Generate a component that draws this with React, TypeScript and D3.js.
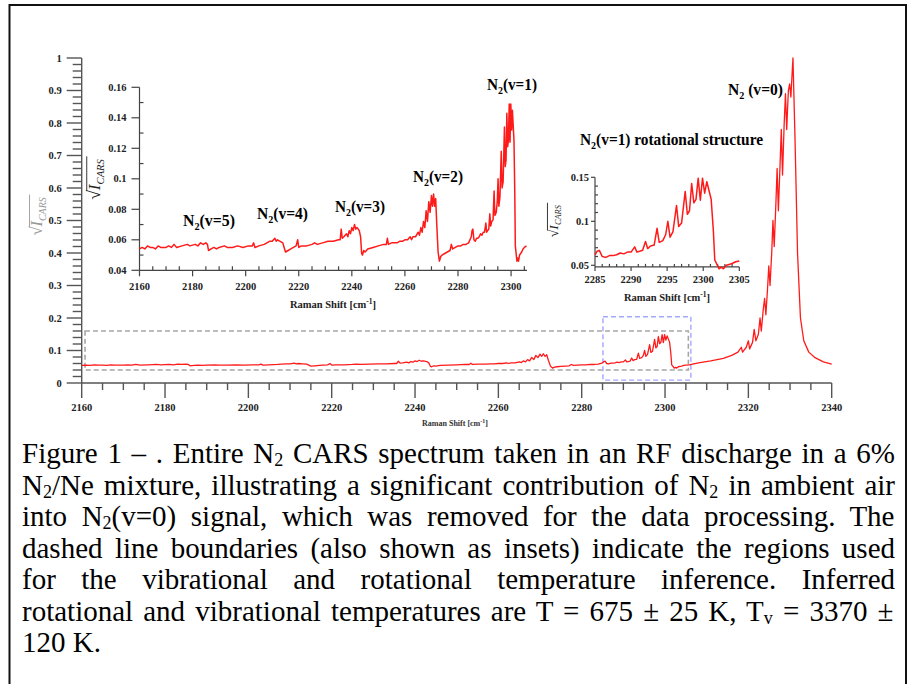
import React from "react";
import * as d3 from "d3";

// ---- Spectrum data: Raman shift [cm^-1], sqrt(I_CARS) ----
const vibrationalBand: [number, number][] = [
  [2160, 0.054], [2161, 0.055], [2162, 0.054], [2163, 0.056], [2164, 0.055], [2165, 0.055],
  [2166, 0.054], [2167, 0.056], [2168, 0.055], [2170, 0.055], [2171, 0.056], [2172, 0.055],
  [2173, 0.057], [2174, 0.055], [2176, 0.056], [2178, 0.057], [2179, 0.056], [2181, 0.057],
  [2182, 0.056], [2183, 0.058], [2184, 0.057], [2185, 0.058], [2185.6, 0.057], [2186, 0.053],
  [2187, 0.054], [2188, 0.055], [2189, 0.054], [2190, 0.055], [2192, 0.056], [2193, 0.055],
  [2195, 0.055], [2197, 0.056], [2199, 0.055], [2201, 0.056], [2202.5, 0.056], [2203, 0.058],
  [2203.5, 0.055], [2205, 0.056], [2207, 0.057], [2209, 0.059], [2210, 0.059], [2211, 0.061],
  [2211.5, 0.059], [2212, 0.06], [2213, 0.059], [2214, 0.058], [2214.5, 0.055], [2215, 0.052],
  [2216, 0.053], [2217, 0.054], [2218, 0.055], [2219, 0.056], [2219.6, 0.06], [2220, 0.055],
  [2221, 0.056], [2223, 0.056], [2225, 0.057], [2226, 0.058], [2227, 0.057], [2229, 0.058],
  [2231, 0.059], [2233, 0.059], [2235, 0.06], [2235.6, 0.06], [2236, 0.067], [2236.4, 0.061],
  [2237, 0.062], [2238, 0.064], [2238.5, 0.062], [2239, 0.066], [2239.5, 0.064], [2240, 0.068],
  [2240.5, 0.066], [2241, 0.07], [2241.5, 0.067], [2242, 0.068], [2242.8, 0.066], [2243.3, 0.062],
  [2243.7, 0.051], [2244, 0.05], [2244.5, 0.053], [2245, 0.052], [2246, 0.054], [2248, 0.055],
  [2250, 0.056], [2252, 0.057], [2253, 0.057], [2253.4, 0.061], [2253.8, 0.057], [2255, 0.058],
  [2257, 0.058], [2258, 0.059], [2259, 0.059], [2260, 0.06], [2261, 0.06], [2262, 0.062],
  [2262.5, 0.06], [2263, 0.062], [2264, 0.062], [2265, 0.065], [2265.5, 0.063], [2266, 0.068],
  [2266.5, 0.065], [2267, 0.072], [2267.5, 0.068], [2268, 0.079], [2268.5, 0.072], [2269, 0.085],
  [2269.5, 0.078], [2270, 0.089], [2270.4, 0.082], [2270.8, 0.09], [2271.2, 0.082], [2271.6, 0.087],
  [2272, 0.07], [2272.5, 0.052], [2273, 0.046], [2273.5, 0.049], [2274, 0.05], [2275, 0.051],
  [2276, 0.052], [2277, 0.053], [2277.5, 0.057], [2278, 0.054], [2279, 0.055], [2280, 0.056],
  [2281, 0.056], [2282, 0.057], [2283, 0.057], [2284, 0.058],
];

const rotationalBand: [number, number][] = [
  [2285, 0.062], [2285.3, 0.066], [2285.6, 0.067], [2286, 0.06], [2286.5, 0.059], [2287, 0.061],
  [2287.5, 0.061], [2288, 0.062], [2288.5, 0.064], [2289, 0.063], [2289.5, 0.065], [2290, 0.065],
  [2290.5, 0.071], [2290.8, 0.065], [2291.2, 0.066], [2291.6, 0.067], [2292, 0.077], [2292.3, 0.069],
  [2292.7, 0.072], [2293.2, 0.073], [2293.6, 0.092], [2293.9, 0.076], [2294.4, 0.078], [2294.8, 0.085],
  [2295.1, 0.1], [2295.4, 0.082], [2295.8, 0.088], [2296.3, 0.118], [2296.6, 0.094], [2297, 0.098],
  [2297.5, 0.134], [2297.8, 0.108], [2298.1, 0.112], [2298.4, 0.143], [2298.7, 0.121], [2299, 0.125],
  [2299.3, 0.149], [2299.6, 0.124], [2299.9, 0.149], [2300.2, 0.132], [2300.5, 0.145], [2300.8, 0.135],
  [2301.1, 0.125], [2301.4, 0.09], [2301.6, 0.056], [2301.9, 0.051], [2302.2, 0.046], [2302.5, 0.048],
  [2302.8, 0.046], [2303.2, 0.05], [2303.6, 0.051], [2304, 0.052], [2304.5, 0.054], [2305, 0.055],
];

const groundBand: [number, number][] = [
  [2305.8, 0.056], [2308, 0.062], [2311, 0.068], [2314, 0.076], [2316, 0.085], [2317.5, 0.095],
  [2318.3, 0.11], [2318.6, 0.095], [2319.5, 0.11], [2320, 0.13], [2320.3, 0.105], [2321, 0.125],
  [2321.4, 0.165], [2321.8, 0.13], [2322.4, 0.15], [2322.8, 0.2], [2323.1, 0.16], [2323.6, 0.23],
  [2323.9, 0.26], [2324.2, 0.21], [2324.6, 0.29], [2324.9, 0.36], [2325.2, 0.3], [2325.6, 0.4],
  [2325.9, 0.5], [2326.2, 0.42], [2326.6, 0.55], [2326.9, 0.66], [2327.2, 0.53], [2327.6, 0.67],
  [2327.9, 0.78], [2328.2, 0.64], [2328.6, 0.8], [2328.9, 0.89], [2329.2, 0.78], [2329.6, 0.9],
  [2329.9, 0.92], [2330.2, 0.88], [2330.7, 1.0], [2331.2, 0.75], [2331.8, 0.4], [2332.5, 0.2],
  [2333.3, 0.13], [2334.5, 0.095], [2336, 0.078], [2338, 0.065], [2340, 0.058],
];

const spectrum = [...vibrationalBand, ...rotationalBand, ...groundBand];

// ---- Axis ticks ----
const mainXTicks = [2160, 2180, 2200, 2220, 2240, 2260, 2280, 2300, 2320, 2340];
const mainYTicks = [0, 0.1, 0.2, 0.3, 0.4, 0.5, 0.6, 0.7, 0.8, 0.9, 1];
const vibXTicks = [2160, 2180, 2200, 2220, 2240, 2260, 2280, 2300];
const vibYTicks = [0.04, 0.06, 0.08, 0.1, 0.12, 0.14, 0.16];
const rotXTicks = [2285, 2290, 2295, 2300, 2305];
const rotYTicks = [0.05, 0.1, 0.15];

// ---- Region boxes (shift range, value range) ----
const vibRegion = { x: [2160.8, 2305.6], y: [0.04, 0.16] };
const rotRegion = { x: [2285.1, 2306.2], y: [0.009, 0.204] };

// ---- Peak labels ----
const peakLabels = [
  { v: "5", x: 183, y: 226, w: 52 },
  { v: "4", x: 257, y: 219, w: 51 },
  { v: "3", x: 335, y: 212, w: 50 },
  { v: "2", x: 413, y: 182, w: 50 },
  { v: "1", x: 487, y: 90, w: 50 },
];

// ---- Caption ----
type Seg = { t: string; sub?: boolean };
const captionLines: Seg[][] = [
  [{ t: "Figure 1 – . Entire N" }, { t: "2", sub: true }, { t: " CARS spectrum taken in an RF discharge in a 6%" }],
  [{ t: "N" }, { t: "2", sub: true }, { t: "/Ne mixture, illustrating a significant contribution of N" }, { t: "2", sub: true }, { t: " in ambient air" }],
  [{ t: "into N" }, { t: "2", sub: true }, { t: "(v=0) signal, which was removed for the data processing. The" }],
  [{ t: "dashed line boundaries (also shown as insets) indicate the regions used" }],
  [{ t: "for the vibrational and rotational temperature inference. Inferred" }],
  [{ t: "rotational and vibrational temperatures are T = 675 ± 25 K, T" }, { t: "v", sub: true }, { t: " = 3370 ±" }],
  [{ t: "120 K." }],
];

const SERIF = "'Liberation Serif', 'Times New Roman', serif";
const RED = "#ff1a1a";
const CAP_SIZE = 29;
const SUB_SIZE = 18;
const SUB_DROP = 3;
const CAP_X0 = 22;
const CAP_WIDTH = 873;

// natural width of a caption line, used to spread its word gaps to the full measure
let measureCtx: CanvasRenderingContext2D | null = null;
function lineWidth(segs: Seg[]): number {
  if (!measureCtx) measureCtx = document.createElement("canvas").getContext("2d");
  if (!measureCtx) return CAP_WIDTH;
  let w = 0;
  for (const s of segs) {
    measureCtx.font = `${s.sub ? SUB_SIZE : CAP_SIZE}px "Liberation Serif"`;
    w += measureCtx.measureText(s.t).width;
  }
  return w;
}

function SqrtLabel({ x, y, size, color }: { x: number; y: number; size: number; color: string }) {
  // rotated radical sign with I_CARS under an overbar
  const w = size * 2.55;
  return (
    <g transform={`translate(${x},${y}) rotate(-90)`} fill={color} fontFamily={SERIF}>
      <text x={-w / 2} y={0} fontSize={size * 1.05}>√</text>
      <text x={-w / 2 + size * 0.55} y={0} fontSize={size} fontStyle="italic">I</text>
      <text x={-w / 2 + size * 0.9} y={size * 0.22} fontSize={size * 0.62} fontStyle="italic">CARS</text>
      <line x1={-w / 2 + size * 0.5} x2={w / 2} y1={-size * 0.78} y2={-size * 0.78} stroke={color} strokeWidth={0.9} />
    </g>
  );
}

function N2Label({ x, y, rest, w, size = 16 }: { x: number; y: number; rest: string; w: number; size?: number }) {
  return (
    <text x={x} y={y} fontFamily={SERIF} fontWeight="bold" fontSize={size} textLength={w} lengthAdjust="spacingAndGlyphs">
      N<tspan dy={4} fontSize={size * 0.65}>2</tspan>
      <tspan dy={-4}>{rest}</tspan>
    </text>
  );
}

export default function App() {
  // main axes
  const xM = d3.scaleLinear().domain([2160, 2340]).range([81.7, 831.7]);
  const yM = d3.scaleLinear().domain([0, 1]).range([383, 58]);
  // vibrational inset
  const xV = d3.scaleLinear().domain([2160, 2306]).range([139.5, 527]);
  const yV = d3.scaleLinear().domain([0.04, 0.16]).range([270.3, 87.3]);
  // rotational inset
  const xR = d3.scaleLinear().domain([2285, 2305]).range([595, 739.3]);
  const yR = d3.scaleLinear().domain([0.05, 0.15]).range([265.3, 177.3]);

  const lineM = d3.line<[number, number]>().x((d) => xM(d[0])).y((d) => yM(d[1]));
  const lineV = d3.line<[number, number]>().x((d) => xV(d[0])).y((d) => yV(d[1]));
  const lineR = d3.line<[number, number]>().x((d) => xR(d[0])).y((d) => yR(d[1]));

  const vibData = spectrum.filter((d) => d[0] <= 2306);
  const rotData = spectrum.filter((d) => d[0] >= 2285 && d[0] <= 2305);

  const mainXMinor = d3.range(2160, 2341, 5).filter((v) => v % 20 !== 0);
  const mainYMinor = d3.range(0, 51).map((i) => i * 0.02).filter((_, i) => i % 5 !== 0);
  const vibXMinor = d3.range(2160, 2306, 5).filter((v) => v % 20 !== 0);
  const vibYMinor = d3.range(4, 17).map((i) => i / 100).filter((_, i) => i % 2 === 1);
  const rotXMinor = d3.range(2285, 2306, 1).filter((v) => v % 5 !== 0);
  const rotYMinor = d3.range(5, 16).map((i) => i / 100).filter((_, i) => i % 5 !== 0);

  const tickFont = { fontFamily: SERIF, fontWeight: "bold" as const, fontSize: 10.5, fill: "#222" };
  const axisY0R = yR(0.0482);

  return (
    <svg width={911} height={684} style={{ position: "absolute", left: 0, top: 0, background: "#fff" }}>
      <rect x={0} y={0} width={911} height={684} fill="#fff" />
      {/* frame */}
      <rect x={9.5} y={5} width={896.5} height={700} fill="none" stroke="#111" strokeWidth={2} />

      {/* ===== main plot ===== */}
      <g stroke="#555" strokeWidth={1.4}>
        <line x1={xM(2160)} x2={xM(2340)} y1={yM(0)} y2={yM(0)} />
        <line x1={xM(2160)} x2={xM(2160)} y1={yM(0)} y2={yM(1)} />
        {mainXTicks.map((t) => (
          <line key={t} x1={xM(t)} x2={xM(t)} y1={yM(0)} y2={yM(0) + 15} />
        ))}
        {mainXMinor.map((t) => (
          <line key={t} x1={xM(t)} x2={xM(t)} y1={yM(0)} y2={yM(0) + 7} />
        ))}
        {mainYTicks.map((t) => (
          <line key={t} x1={xM(2160) - 15} x2={xM(2160)} y1={yM(t)} y2={yM(t)} />
        ))}
        {mainYMinor.map((t) => (
          <line key={t} x1={xM(2160) - 9} x2={xM(2160)} y1={yM(t)} y2={yM(t)} />
        ))}
      </g>
      {mainXTicks.map((t) => (
        <text key={t} x={xM(t)} y={yM(0) + 28} textAnchor="middle" {...tickFont}>
          {t}
        </text>
      ))}
      {mainYTicks.map((t) => (
        <text key={t} x={xM(2160) - 20} y={yM(t) + 3.5} textAnchor="end" {...tickFont}>
          {d3.format("~g")(t)}
        </text>
      ))}
      <text x={455} y={426} textAnchor="middle" fontFamily={SERIF} fontWeight="bold" fontSize={8} fill="#333">
        Raman Shift [cm<tspan dy={-3} fontSize={6}>-1</tspan><tspan dy={3}>]</tspan>
      </text>
      <SqrtLabel x={42} y={215} size={16} color="#999" />

      {/* region boxes */}
      <rect
        x={xM(vibRegion.x[0])}
        y={yM(vibRegion.y[1])}
        width={xM(vibRegion.x[1]) - xM(vibRegion.x[0])}
        height={yM(vibRegion.y[0]) - yM(vibRegion.y[1])}
        fill="none"
        stroke="#a6a6a6"
        strokeWidth={1.6}
        strokeDasharray="5,3"
      />
      <rect
        x={xM(rotRegion.x[0])}
        y={yM(rotRegion.y[1])}
        width={xM(rotRegion.x[1]) - xM(rotRegion.x[0])}
        height={yM(rotRegion.y[0]) - yM(rotRegion.y[1])}
        fill="none"
        stroke="#a3a8ff"
        strokeWidth={1.4}
        strokeDasharray="5,3"
      />
      <path d={lineM(spectrum) || ""} fill="none" stroke={RED} strokeWidth={1.3} strokeLinejoin="round" />

      <N2Label x={728} y={95} rest=" (v=0)" w={55} />

      {/* ===== vibrational inset ===== */}
      <g stroke="#444" strokeWidth={1.2}>
        <line x1={xV(2160)} x2={xV(2306)} y1={yV(0.04)} y2={yV(0.04)} />
        <line x1={xV(2160)} x2={xV(2160)} y1={yV(0.04)} y2={yV(0.16)} />
        {vibXTicks.map((t) => (
          <line key={t} x1={xV(t)} x2={xV(t)} y1={yV(0.04)} y2={yV(0.04) + 6} />
        ))}
        {vibXMinor.map((t) => (
          <line key={t} x1={xV(t)} x2={xV(t)} y1={yV(0.04)} y2={yV(0.04) - 4} />
        ))}
        {vibYTicks.map((t) => (
          <line key={t} x1={xV(2160) - 8} x2={xV(2160)} y1={yV(t)} y2={yV(t)} />
        ))}
        {vibYMinor.map((t) => (
          <line key={t} x1={xV(2160)} x2={xV(2160) + 4} y1={yV(t)} y2={yV(t)} />
        ))}
      </g>
      {vibXTicks.map((t) => (
        <text key={t} x={xV(t)} y={yV(0.04) + 20} textAnchor="middle" {...tickFont}>
          {t}
        </text>
      ))}
      {vibYTicks.map((t) => (
        <text key={t} x={xV(2160) - 13} y={yV(t) + 3.5} textAnchor="end" {...tickFont}>
          {d3.format("~g")(t)}
        </text>
      ))}
      <text x={333} y={308} textAnchor="middle" fontFamily={SERIF} fontWeight="bold" fontSize={10.5} fill="#222">
        Raman Shift [cm<tspan dy={-4} fontSize={7.5}>-1</tspan><tspan dy={4}>]</tspan>
      </text>
      <SqrtLabel x={100} y={178} size={17} color="#222" />
      <path d={lineV(vibData) || ""} fill="none" stroke={RED} strokeWidth={1.5} strokeLinejoin="round" />
      {peakLabels.map((p) => (
        <N2Label key={p.v} x={p.x} y={p.y} rest={`(v=${p.v})`} w={p.w} />
      ))}

      {/* ===== rotational inset ===== */}
      <N2Label x={580} y={145} rest="(v=1) rotational structure" w={183} />
      <g stroke="#444" strokeWidth={1.2}>
        <line x1={xR(2285)} x2={xR(2305)} y1={axisY0R} y2={axisY0R} />
        <line x1={xR(2285)} x2={xR(2285)} y1={axisY0R} y2={yR(0.15)} />
        {rotXTicks.map((t) => (
          <line key={t} x1={xR(t)} x2={xR(t)} y1={axisY0R} y2={axisY0R + 4} />
        ))}
        {rotXMinor.map((t) => (
          <line key={t} x1={xR(t)} x2={xR(t)} y1={axisY0R} y2={axisY0R - 3} />
        ))}
        {rotYTicks.map((t) => (
          <line key={t} x1={xR(2285) - 4} x2={xR(2285)} y1={yR(t)} y2={yR(t)} />
        ))}
        {rotYMinor.map((t) => (
          <line key={t} x1={xR(2285)} x2={xR(2285) + 3} y1={yR(t)} y2={yR(t)} />
        ))}
      </g>
      {rotXTicks.map((t) => (
        <text key={t} x={xR(t)} y={axisY0R + 16} textAnchor="middle" {...tickFont}>
          {t}
        </text>
      ))}
      {rotYTicks.map((t) => (
        <text key={t} x={xR(2285) - 6} y={yR(t) + 3.5} textAnchor="end" {...tickFont}>
          {d3.format("~g")(t)}
        </text>
      ))}
      <text x={667} y={301} textAnchor="middle" fontFamily={SERIF} fontWeight="bold" fontSize={10.5} fill="#222">
        Raman Shift [cm<tspan dy={-4} fontSize={7.5}>-1</tspan><tspan dy={4}>]</tspan>
      </text>
      <SqrtLabel x={558} y={220} size={13.5} color="#222" />
      <path d={lineR(rotData) || ""} fill="none" stroke={RED} strokeWidth={1.5} strokeLinejoin="round" />

      {/* ===== caption (justified by widening word gaps) ===== */}
      {captionLines.map((segs, i) => {
        const justify = i < captionLines.length - 1;
        const gaps = segs.reduce((n, s) => n + (s.t.match(/ /g) || []).length, 0);
        const ws = justify && gaps > 0 ? (CAP_WIDTH - lineWidth(segs)) / gaps : 0;
        let shifted = false;
        return (
          <text
            key={i}
            x={CAP_X0}
            y={463 + i * 31.5}
            fontFamily={SERIF}
            fontSize={CAP_SIZE}
            fill="#000"
            style={{ wordSpacing: `${ws}px`, whiteSpace: "pre" }}
          >
            {segs.map((s, j) => {
              let dy = 0;
              if (s.sub && !shifted) { dy = SUB_DROP; shifted = true; }
              else if (!s.sub && shifted) { dy = -SUB_DROP; shifted = false; }
              return (
                <tspan key={j} dy={dy || undefined} fontSize={s.sub ? SUB_SIZE : CAP_SIZE}>
                  {s.t}
                </tspan>
              );
            })}
          </text>
        );
      })}
    </svg>
  );
}
